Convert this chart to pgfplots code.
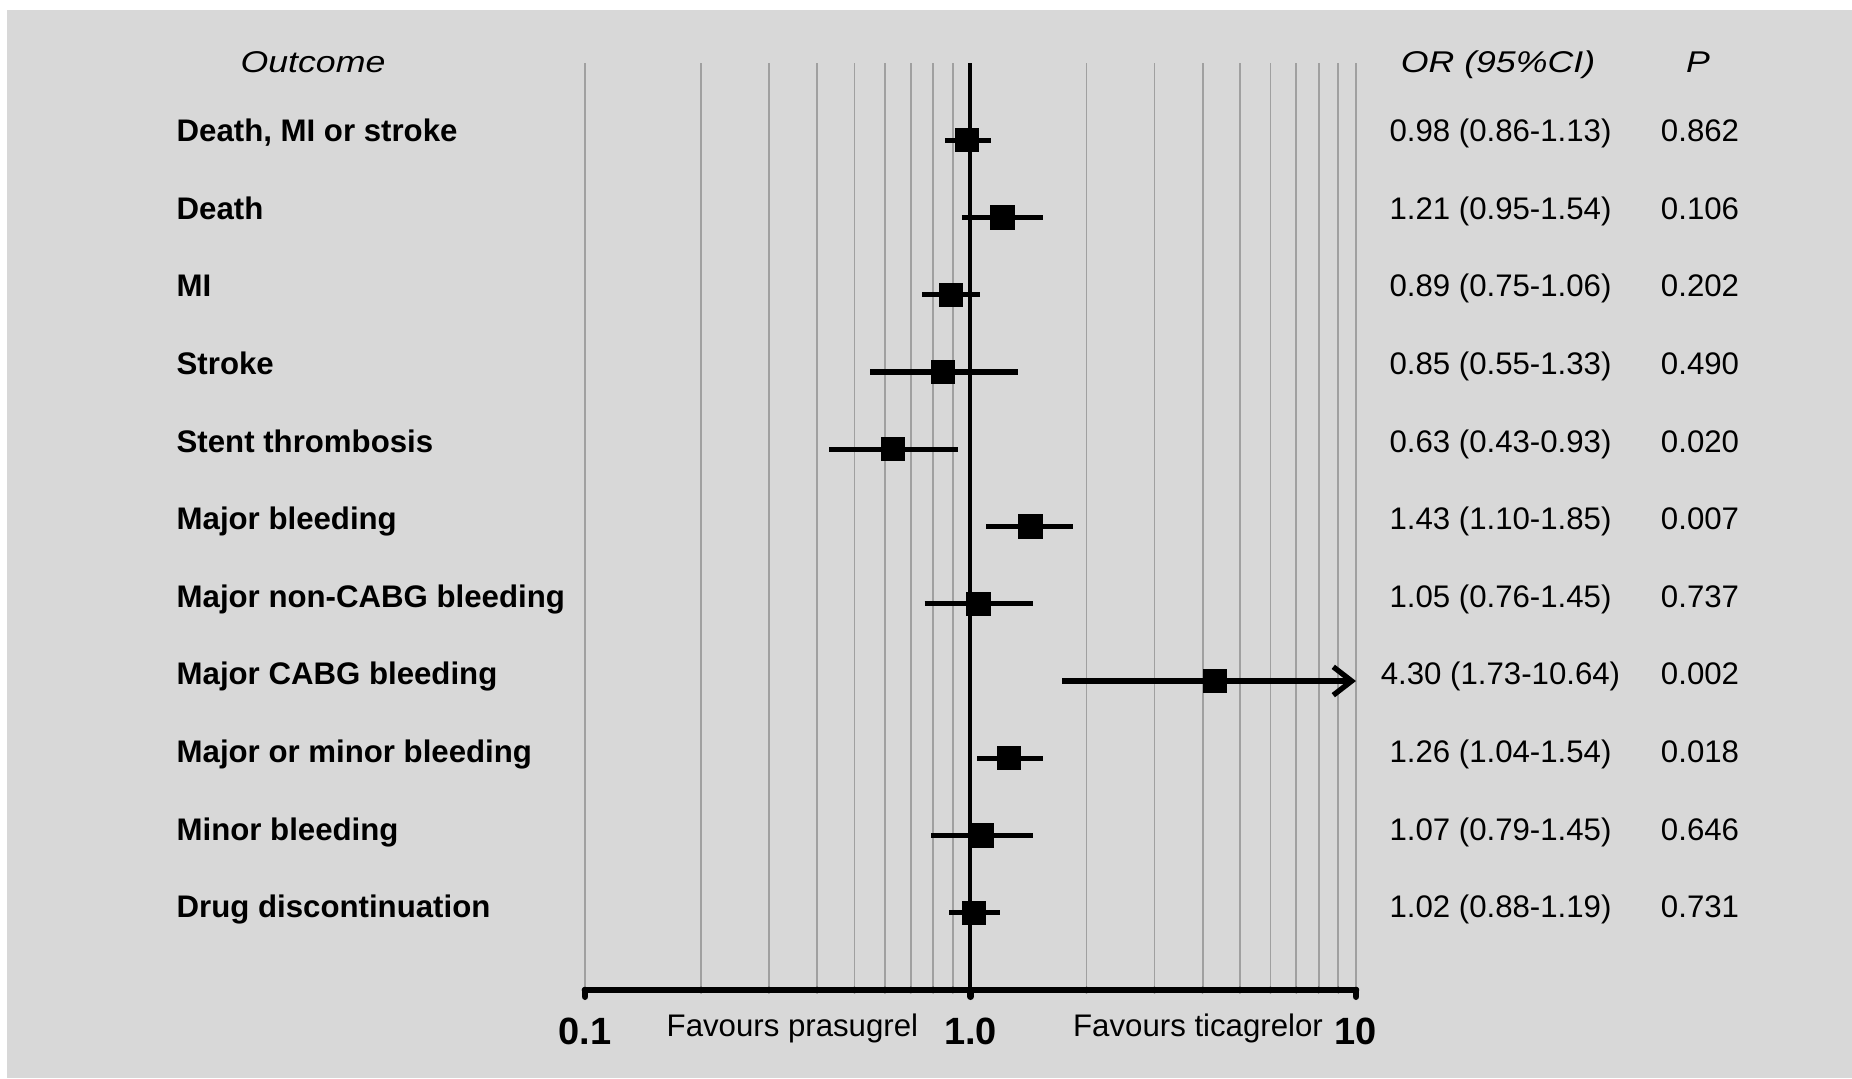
\documentclass[border=0pt]{standalone}
\usepackage{fontspec}
\setmainfont{Liberation Sans}
\newfontfamily\hdr[FakeStretch=1.19]{Liberation Sans}
\usepackage{pgfplots}
\pgfplotsset{compat=1.18}
\usetikzlibrary{arrows.meta}
\definecolor{bg}{RGB}{216,216,216}
\definecolor{gridc}{RGB}{160,160,160}
\newcommand\bodyfont{\fontsize{9.36}{11}\selectfont}
\newcommand\hdrfont{\hdr\fontsize{9.0}{11}\selectfont\itshape}
\begin{document}
\begin{tikzpicture}
\begin{scope}[x=0.3pt,y=-0.3pt]
\fill[white] (0,0) rectangle (1852,1078);
\fill[bg] (7,10) rectangle (1852,1078);
\end{scope}
\begin{axis}[
  at={(175.5pt,-297pt)}, anchor=south west,
  scale only axis, width=231.3pt, height=278.1pt,
  xmode=log, xmin=0.1, xmax=10, ymin=0, ymax=12,
  axis x line*=bottom, axis y line=none,
  x axis line style={-, black, line width=2pt, line cap=round},
  xtick={0.1,1,10},
  xticklabels={\textbf{0.1},\textbf{1.0},\textbf{10}},
  minor xtick={0.2,0.3,0.4,0.5,0.6,0.7,0.8,0.9,2,3,4,5,6,7,8,9},
  xmajorgrids, xminorgrids,
  grid style={draw=gridc, line width=0.55pt},
  major grid style={draw=gridc, line width=0.55pt},
  minor grid style={draw=gridc, line width=0.55pt},
  major tick length=2pt, minor tick length=0pt, tick align=outside,
  xtick style={black, line width=2pt, line cap=round},
  xticklabel style={anchor=base, yshift=-14.2pt, inner sep=0pt, font=\fontsize{11.4}{12}\selectfont\bfseries},
  ytick=\empty,
  clip=false,
]
% line of no effect
\addplot[black, line width=1.2pt] coordinates {(1,0) (1,12)};
% confidence intervals
\addplot[black, line width=1.6pt] coordinates {(0.86,11) (1.13,11)};
\addplot[black, line width=1.6pt] coordinates {(0.95,10) (1.54,10)};
\addplot[black, line width=1.6pt] coordinates {(0.75,9) (1.06,9)};
\addplot[black, line width=1.6pt] coordinates {(0.55,8) (1.33,8)};
\addplot[black, line width=1.6pt] coordinates {(0.43,7) (0.93,7)};
\addplot[black, line width=1.6pt] coordinates {(1.10,6) (1.85,6)};
\addplot[black, line width=1.6pt] coordinates {(0.76,5) (1.45,5)};
\addplot[black, line width=1.6pt, -{Straight Barb[length=5.5pt, width=8.5pt]}] coordinates {(1.73,4) (10,4)};
\addplot[black, line width=1.6pt] coordinates {(1.04,3) (1.54,3)};
\addplot[black, line width=1.6pt] coordinates {(0.79,2) (1.45,2)};
\addplot[black, line width=1.6pt] coordinates {(0.88,1) (1.19,1)};
% point estimates
\addplot[only marks, mark=square*, mark size=3.45pt, mark options={fill=black, draw=none}] coordinates {
 (0.98,11) (1.21,10) (0.89,9) (0.85,8) (0.63,7) (1.43,6) (1.05,5) (4.30,4) (1.26,3) (1.07,2) (1.02,1)};
\end{axis}
\begin{scope}[x=0.3pt,y=-0.3pt, every node/.style={inner sep=0pt}]
% headers
\node[anchor=base, font=\hdrfont] at (313,72.7) {Outcome};
\node[anchor=base, font=\hdrfont] at (1498,72.7) {OR (95\%CI)};
\node[anchor=base, font=\hdrfont] at (1698,72.7) {P};
% labels
\begin{scope}[every node/.append style={anchor=base west, font=\bodyfont\bfseries}]
\node at (176,141.7) {Death, MI or stroke};
\node at (176,219.3) {Death};
\node at (176,296.9) {MI};
\node at (176,374.5) {Stroke};
\node at (176,452.1) {Stent thrombosis};
\node at (176,529.7) {Major bleeding};
\node at (176,607.3) {Major non-CABG bleeding};
\node at (176,684.9) {Major CABG bleeding};
\node at (176,762.5) {Major or minor bleeding};
\node at (176,840.1) {Minor bleeding};
\node at (176,917.7) {Drug discontinuation};
\end{scope}
% OR column
\begin{scope}[every node/.append style={anchor=base, font=\bodyfont}]
\node at (1500.5,141.7) {0.98 (0.86-1.13)};
\node at (1500.5,219.3) {1.21 (0.95-1.54)};
\node at (1500.5,296.9) {0.89 (0.75-1.06)};
\node at (1500.5,374.5) {0.85 (0.55-1.33)};
\node at (1500.5,452.1) {0.63 (0.43-0.93)};
\node at (1500.5,529.7) {1.43 (1.10-1.85)};
\node at (1500.5,607.3) {1.05 (0.76-1.45)};
\node at (1500.5,684.9) {4.30 (1.73-10.64)};
\node at (1500.5,762.5) {1.26 (1.04-1.54)};
\node at (1500.5,840.1) {1.07 (0.79-1.45)};
\node at (1500.5,917.7) {1.02 (0.88-1.19)};
% P column
\node at (1700,141.7) {0.862};
\node at (1700,219.3) {0.106};
\node at (1700,296.9) {0.202};
\node at (1700,374.5) {0.490};
\node at (1700,452.1) {0.020};
\node at (1700,529.7) {0.007};
\node at (1700,607.3) {0.737};
\node at (1700,684.9) {0.002};
\node at (1700,762.5) {0.018};
\node at (1700,840.1) {0.646};
\node at (1700,917.7) {0.731};
% favours
\node at (792.4,1036.7) {Favours prasugrel};
\node at (1198,1036.7) {Favours ticagrelor};
\end{scope}
\end{scope}
\end{tikzpicture}
\end{document}
